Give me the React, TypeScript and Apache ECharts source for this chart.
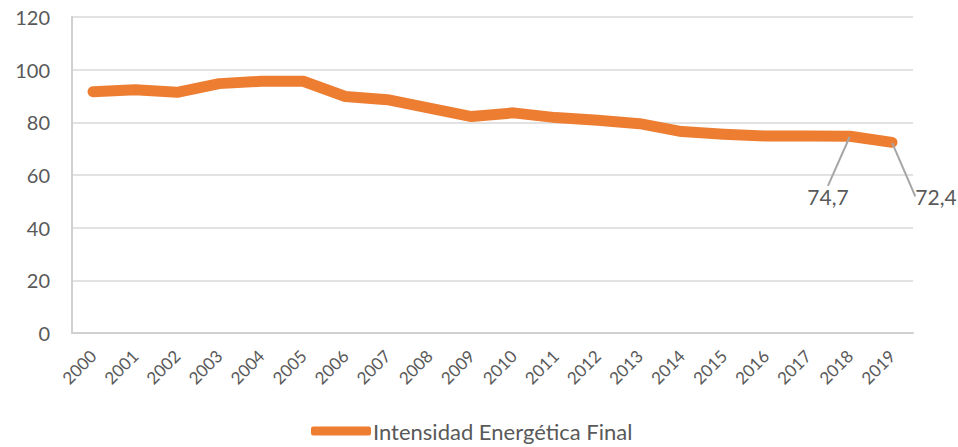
import React, { useEffect, useRef } from "react";
import * as echarts from "echarts";

const years = ["2000","2001","2002","2003","2004","2005","2006","2007","2008","2009","2010","2011","2012","2013","2014","2015","2016","2017","2018","2019"];
const intensity = [91.6, 92.4, 91.4, 94.7, 95.6, 95.6, 89.8, 88.6, 85.4, 82.2, 83.6, 81.8, 80.8, 79.5, 76.5, 75.5, 74.8, 74.8, 74.7, 72.4];
const seriesName = "Intensidad Energética Final";
const labelled: Record<number, string> = { 18: "74,7", 19: "72,4" };
const yTicks = { min: 0, max: 120, interval: 20 };

const FONT = "Lato, 'Open Sans', sans-serif";
const TEXT = "#595959";

export default function App() {
  const ref = useRef<HTMLDivElement>(null);
  useEffect(() => {
    if (!ref.current) return;
    const chart = echarts.init(ref.current, undefined, { renderer: "svg" });
    chart.setOption({
      animation: false,
      textStyle: { fontFamily: FONT },
      grid: { left: 72, right: 45, top: 17, bottom: 114, containLabel: false },
      legend: {
        data: [seriesName],
        left: 311,
        top: 420,
        padding: 0,
        itemWidth: 60,
        itemHeight: 9,
        icon: "roundRect",
        itemGap: 4,
        textStyle: { fontFamily: FONT, fontSize: 22, color: TEXT, padding: [0, 0, 0, -3] },
      },
      xAxis: {
        type: "category",
        data: years,
        boundaryGap: true,
        axisLine: { show: true, lineStyle: { color: "#d0d0d0", width: 2 } },
        axisTick: { show: false },
        axisLabel: { rotate: 45, fontSize: 17, color: TEXT, margin: 20, fontFamily: FONT, interval: 0 },
      },
      yAxis: {
        type: "value",
        min: yTicks.min,
        max: yTicks.max,
        interval: yTicks.interval,
        axisLine: { show: true, lineStyle: { color: "#d0d0d0", width: 2 } },
        axisTick: { show: false },
        splitLine: { show: true, lineStyle: { color: "#d9d9d9", width: 1.5 } },
        axisLabel: { fontSize: 20, color: TEXT, margin: 22, fontFamily: FONT },
      },
      series: [
        {
          name: seriesName,
          type: "line",
          data: intensity.map((v, i) =>
            labelled[i]
              ? { value: v, label: { show: true, formatter: labelled[i] } }
              : v
          ),
          symbol: "circle",
          symbolSize: 1,
          showSymbol: true,
          itemStyle: { color: "#ED7D31" },
          lineStyle: { color: "#ED7D31", width: 11, cap: "round", join: "round" },
          label: {
            show: false,
            position: "inside",
            fontSize: 21,
            color: TEXT,
            fontFamily: FONT,
          },
          labelLine: { show: true, lineStyle: { color: "#a6a6a6", width: 2 } },
          labelLayout: (params: any) => {
            if (params.dataIndex === 18) return { dx: -22, dy: 60 };
            if (params.dataIndex === 19) return { dx: 44, dy: 54 };
            return {};
          },
        },
      ],
    });
    return () => chart.dispose();
  }, []);
  return (
    <div
      ref={ref}
      style={{ position: "absolute", left: 0, top: 0, width: 958, height: 447 }}
    />
  );
}
